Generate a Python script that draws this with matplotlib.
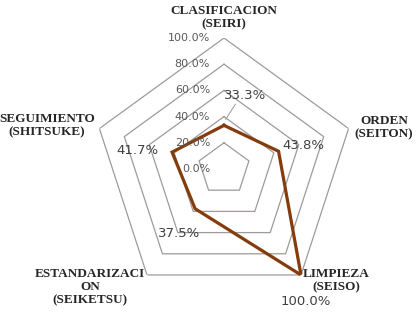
import numpy as np
import matplotlib.pyplot as plt

# data
categories = ['CLASIFICACION\n(SEIRI)', 'ORDEN\n(SEITON)', 'LIMPIEZA\n(SEISO)',
              'ESTANDARIZACI\nON\n(SEIKETSU)', 'SEGUIMIENTO\n(SHITSUKE)']
values = [0.333, 0.438, 1.0, 0.375, 0.417]
ticks = [0.0, 0.2, 0.4, 0.6, 0.8, 1.0]
tick_labels = ['0.0%', '20.0%', '40.0%', '60.0%', '80.0%', '100.0%']

W, H = 417, 314
cx, cy, R = 224, 169, 131

fig = plt.figure(figsize=(W / 100, H / 100), dpi=100)
ax = fig.add_axes([(cx - R) / W, (H - cy - R) / H, 2 * R / W, 2 * R / H],
                  projection='polar')
ax.set_theta_offset(np.pi / 2)
ax.set_theta_direction(-1)
ax.set_ylim(0, 1)
ax.grid(False)
ax.set_xticks([])
ax.set_yticks([])
ax.spines['polar'].set_visible(False)
ax.patch.set_alpha(0)

n = len(categories)
theta = np.linspace(0, 2 * np.pi, n, endpoint=False)
theta_c = np.append(theta, theta[0])

# pentagon grid
for t in ticks[1:]:
    ax.plot(theta_c, [t] * (n + 1), color='#a09a98', lw=0.9, zorder=1)

# series
vals_c = np.append(values, values[0])
ax.plot(theta_c, vals_c, color='#843c0c', lw=2.3, zorder=3, solid_joinstyle='miter')

# tick labels (left of the top axis)
for t, lab in zip(ticks, tick_labels):
    ax.annotate(lab, (0, t), xytext=(-10, 0), textcoords='offset points',
                ha='right', va='center', fontsize=8, color='#595959',
                family='DejaVu Sans')

# data labels (offsets in pixels)
offsets = [(21, 30), (25, 6), (5, -27), (-16, -25), (-35, 2)]
for th, v, (dx, dy) in zip(theta, values, offsets):
    ax.annotate('{:.1%}'.format(v), (th, v), xytext=(dx * 0.72, dy * 0.72),
                textcoords='offset points', ha='center', va='center',
                fontsize=9.5, color='#404040', family='DejaVu Sans', zorder=4)

# leader lines
ax.annotate('', (0, 0.36), xytext=(13 * 0.72, 20 * 0.72), textcoords='offset points',
            arrowprops=dict(arrowstyle='-', color='#a6a6a6', lw=0.8))

# category labels (figure pixel positions)
cat_pos = [(224, 18), (384, 128), (336, 281), (90, 287), (47, 126)]
for lab, (x, y) in zip(categories, cat_pos):
    fig.text(x / W, 1 - y / H, lab, ha='center', va='center', fontsize=9.5,
             fontweight='bold', family='Liberation Serif', color='#262626',
             linespacing=1.15)

fig.savefig('out.png', dpi=100)
